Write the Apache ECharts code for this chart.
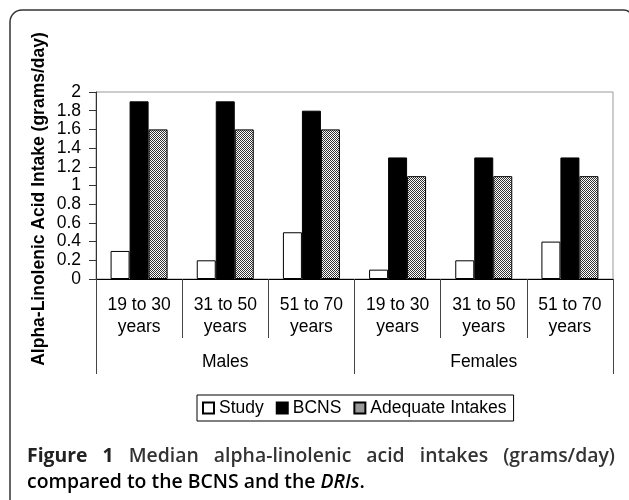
<!DOCTYPE html>
<html>
<head>
<meta charset="utf-8">
<script src="https://cdn.jsdelivr.net/npm/echarts@6/dist/echarts.min.js"></script>
<style>
html,body{margin:0;padding:0;background:#fff;}
#chart{width:629px;height:500px;}
</style>
</head>
<body>
<div id="chart"></div>
<script>
// ---- data ----
const categories = ['19 to 30\nyears', '31 to 50\nyears', '51 to 70\nyears', '19 to 30\nyears', '31 to 50\nyears', '51 to 70\nyears'];
const groups = ['Males', 'Females'];
const seriesNames = ['Study', 'BCNS', 'Adequate Intakes'];
const study = [0.3, 0.2, 0.5, 0.1, 0.2, 0.4];
const bcns = [1.9, 1.9, 1.8, 1.3, 1.3, 1.3];
const adequate = [1.6, 1.6, 1.6, 1.1, 1.1, 1.1];
const yTicks = { min: 0, max: 2, interval: 0.2 };
const yTitle = 'Alpha-Linolenic Acid Intake (grams/day)';
const captionLine1 = ['Figure', '1', 'Median', 'alpha-linolenic', 'acid', 'intakes', '(grams/day)'];
const captionLine2 = ['compared to the BCNS and the ', 'DRIs', '.'];

// ---- pattern for "Adequate Intakes" ----
const pc = document.createElement('canvas');
pc.width = 2; pc.height = 2;
const pctx = pc.getContext('2d');
pctx.fillStyle = '#ffffff'; pctx.fillRect(0, 0, 2, 2);
pctx.fillStyle = '#333333'; pctx.fillRect(0, 0, 1, 1); pctx.fillRect(1, 1, 1, 1);
const hatch = { image: pc, repeat: 'repeat' };

const FONT = '"Liberation Sans", Arial, Helvetica, sans-serif';
const CAP_FONT = '"Open Sans", "Noto Sans", sans-serif';

// ---- caption layout ----
const mctx = document.createElement('canvas').getContext('2d');
const capLeft = 27, capRight = 615, line2Width = 338;
const capY1 = 456, capY2 = 482;
// fit caption size so that the (unjustified) second line has the reference width
mctx.font = '600 20px ' + CAP_FONT;
let w2 = mctx.measureText(captionLine2[0] + captionLine2[2]).width;
mctx.font = 'italic 600 20px ' + CAP_FONT;
w2 += mctx.measureText(captionLine2[1]).width;
const capSize = Math.round(20 * line2Width / w2 * 10) / 10;

function fontFor(i) { return (i < 2 ? '700 ' : '600 ') + capSize + 'px ' + CAP_FONT; }
const widths = captionLine1.map((w, i) => { mctx.font = fontFor(i); return mctx.measureText(w).width; });
const total = widths.reduce((a, b) => a + b, 0);
const gap = (capRight - capLeft - total) / (captionLine1.length - 1);
const captionEls = [];
let cx = capLeft;
captionLine1.forEach((w, i) => {
  captionEls.push({
    type: 'text', x: cx, y: capY1,
    style: { text: w, fill: i < 2 ? '#222' : '#333', font: fontFor(i), textVerticalAlign: 'middle' }
  });
  cx += widths[i] + gap;
});
captionEls.push({
  type: 'text', x: capLeft, y: capY2,
  style: {
    text: '{a|' + captionLine2[0] + '}{b|' + captionLine2[1] + '}{a|' + captionLine2[2] + '}',
    textVerticalAlign: 'middle',
    rich: {
      a: { fontFamily: CAP_FONT, fontWeight: 600, fontSize: capSize, color: '#333' },
      b: { fontFamily: CAP_FONT, fontWeight: 600, fontStyle: 'italic', fontSize: capSize, color: '#333' }
    }
  }
});

const chart = echarts.init(document.getElementById('chart'), null, { renderer: 'canvas' });

const barCommon = {
  type: 'bar', barWidth: 19, barGap: '0%',
  xAxisIndex: 0, yAxisIndex: 0
};

chart.setOption({
  animation: false,
  backgroundColor: '#fff',
  grid: {
    left: 96, right: 16, top: 92, bottom: 221,
    show: true, borderColor: '#999', borderWidth: 1, backgroundColor: 'transparent'
  },
  legend: {
    data: seriesNames,
    left: 197, top: 395,
    orient: 'horizontal',
    itemWidth: 11, itemHeight: 11, itemGap: 12,
    padding: [4, 7, 4, 5],
    borderColor: '#000', borderWidth: 1,
    icon: 'rect',
    textStyle: { fontFamily: FONT, fontSize: 17.5, color: '#000' },
    selectedMode: false
  },
  xAxis: [
    {
      type: 'category', data: categories, position: 'bottom',
      axisLine: { show: true, lineStyle: { color: '#000', width: 1 } },
      axisTick: { show: true, length: 59, lineStyle: { color: '#444' } },
      axisLabel: { fontFamily: FONT, fontSize: 17.5, color: '#000', lineHeight: 22, margin: 15, interval: 0 },
      splitLine: { show: false }
    },
    {
      type: 'category', data: groups, position: 'bottom', offset: 0,
      axisLine: { show: false },
      axisTick: { show: true, length: 95, lineStyle: { color: '#444' } },
      axisLabel: { fontFamily: FONT, fontSize: 17.5, color: '#000', margin: 74, interval: 0 },
      splitLine: { show: false }
    }
  ],
  yAxis: {
    type: 'value', min: yTicks.min, max: yTicks.max, interval: yTicks.interval,
    axisLine: { show: true, lineStyle: { color: '#333', width: 1 } },
    axisTick: { show: true, length: 7, lineStyle: { color: '#333' } },
    axisLabel: { fontFamily: FONT, fontSize: 17.5, color: '#000', margin: 15 },
    splitLine: { show: false }
  },
  series: [
    Object.assign({}, barCommon, { name: seriesNames[0], data: study,
      itemStyle: { color: '#fff', borderColor: '#000', borderWidth: 1 } }),
    Object.assign({}, barCommon, { name: seriesNames[1], data: bcns,
      itemStyle: { color: '#000', borderColor: '#000', borderWidth: 1 } }),
    Object.assign({}, barCommon, { name: seriesNames[2], data: adequate,
      itemStyle: { color: hatch, borderColor: '#000', borderWidth: 1 } })
  ],
  graphic: [
    {
      type: 'rect', silent: true,
      shape: { x: 10, y: 10, width: 622, height: 540, r: [12, 8, 0, 0] },
      style: { fill: 'none', stroke: '#333', lineWidth: 1.5 }
    },
    {
      type: 'text', x: 39, y: 199, rotation: Math.PI / 2,
      style: { text: yTitle, font: 'bold 17.5px ' + FONT, fill: '#000', textAlign: 'center', textVerticalAlign: 'middle' }
    }
  ].concat(captionEls)
});
</script>
</body>
</html>
